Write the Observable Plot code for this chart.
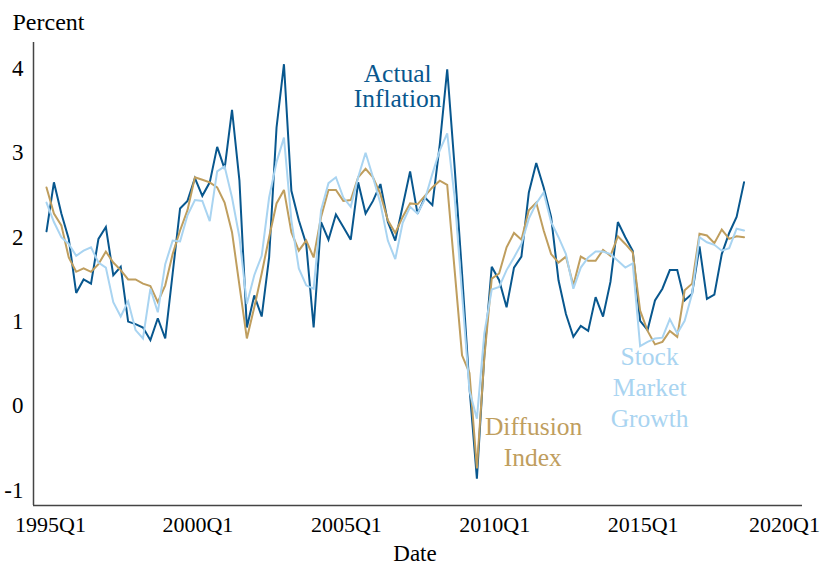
<!DOCTYPE html>
<html>
<head>
<meta charset="utf-8">
<script src="https://cdn.jsdelivr.net/npm/d3@7"></script>
<script src="https://cdn.jsdelivr.net/npm/@observablehq/plot@0.6"></script>
<style>
  html, body { margin: 0; padding: 0; background: #fff; }
</style>
</head>
<body>
<div id="chart"></div>
<script>
const quarters = [
  "1995Q1","1995Q2","1995Q3","1995Q4","1996Q1","1996Q2","1996Q3","1996Q4",
  "1997Q1","1997Q2","1997Q3","1997Q4","1998Q1","1998Q2","1998Q3","1998Q4",
  "1999Q1","1999Q2","1999Q3","1999Q4","2000Q1","2000Q2","2000Q3","2000Q4",
  "2001Q1","2001Q2","2001Q3","2001Q4","2002Q1","2002Q2","2002Q3","2002Q4",
  "2003Q1","2003Q2","2003Q3","2003Q4","2004Q1","2004Q2","2004Q3","2004Q4",
  "2005Q1","2005Q2","2005Q3","2005Q4","2006Q1","2006Q2","2006Q3","2006Q4",
  "2007Q1","2007Q2","2007Q3","2007Q4","2008Q1","2008Q2","2008Q3","2008Q4",
  "2009Q1","2009Q2","2009Q3","2009Q4","2010Q1","2010Q2","2010Q3","2010Q4",
  "2011Q1","2011Q2","2011Q3","2011Q4","2012Q1","2012Q2","2012Q3","2012Q4",
  "2013Q1","2013Q2","2013Q3","2013Q4","2014Q1","2014Q2","2014Q3","2014Q4",
  "2015Q1","2015Q2","2015Q3","2015Q4","2016Q1","2016Q2","2016Q3","2016Q4",
  "2017Q1","2017Q2","2017Q3","2017Q4","2018Q1","2018Q2","2018Q3"
];

const actualInflation = [
  2.07,2.65,2.28,1.98,1.34,1.50,1.45,1.98,2.12,1.55,
  1.65,1.00,0.97,0.93,0.78,1.04,0.80,1.57,2.34,2.43,
  2.70,2.49,2.65,3.07,2.81,3.51,2.67,0.93,1.31,1.06,
  1.76,3.30,4.05,2.55,2.20,1.92,0.93,2.18,1.97,2.27,
  2.12,1.97,2.65,2.28,2.43,2.63,2.18,1.96,2.37,2.78,
  2.28,2.47,2.38,3.10,3.99,2.83,1.57,0.22,-0.86,0.60,
  1.65,1.49,1.17,1.64,1.77,2.53,2.88,2.59,2.24,1.49,
  1.09,0.82,0.95,0.89,1.29,1.06,1.47,2.18,2.00,1.84,
  1.01,0.90,1.25,1.39,1.61,1.61,1.25,1.33,1.89,1.27,
  1.32,1.80,2.05,2.24,2.65
];

const diffusionIndex = [
  2.59,2.28,2.14,1.76,1.59,1.63,1.59,1.68,1.83,1.70,
  1.61,1.50,1.50,1.45,1.42,1.23,1.43,1.80,2.08,2.32,
  2.71,2.68,2.65,2.59,2.41,2.06,1.43,0.80,1.17,1.57,
  2.00,2.40,2.56,2.06,1.84,1.96,1.76,2.24,2.56,2.56,
  2.43,2.44,2.71,2.81,2.71,2.51,2.20,2.05,2.24,2.40,
  2.39,2.49,2.59,2.67,2.62,1.61,0.60,0.39,-0.74,0.57,
  1.51,1.57,1.88,2.05,1.97,2.32,2.41,2.08,1.80,1.70,
  1.77,1.43,1.77,1.72,1.72,1.85,1.78,2.01,1.92,1.82,
  1.13,0.89,0.73,0.76,0.89,0.82,1.37,1.45,2.04,2.02,
  1.93,2.09,1.98,2.01,2.00
];

const stockMarketGrowth = [
  2.41,2.18,2.00,1.92,1.78,1.84,1.88,1.70,1.64,1.23,
  1.06,1.24,0.90,0.80,1.39,1.11,1.68,1.96,1.95,2.26,
  2.44,2.43,2.19,2.78,2.84,2.47,2.00,1.21,1.55,1.78,
  2.47,2.89,3.18,2.20,1.63,1.43,1.39,2.32,2.64,2.71,
  2.47,2.36,2.71,3.00,2.71,2.40,1.96,1.74,2.17,2.36,
  2.28,2.45,2.75,3.03,3.23,2.47,1.33,0.18,-0.15,0.86,
  1.38,1.41,1.61,1.76,1.92,2.22,2.40,2.53,2.18,2.00,
  1.80,1.39,1.64,1.76,1.83,1.83,1.80,1.72,1.64,1.69,
  0.71,0.76,0.80,0.81,1.03,0.86,1.01,1.33,2.00,1.94,
  1.91,1.84,1.87,2.10,2.08
];

const seriesNames = ["Actual Inflation", "Diffusion Index", "Stock Market Growth"];
const seriesColors = ["#08578e", "#bf9e5e", "#a9d4f1"];
const xTicksMiddle = [2000, 2005, 2010, 2015];
const xTickFirst = [1995];
const xTickLast = [2020];
const yTicks = [-1, 0, 1, 2, 3, 4];

// Series labels placed in data units (year, percent)
const labelLines = [
  {text: "Actual",    year: 2006.83, pct: 3.93,  series: 0},
  {text: "Inflation", year: 2006.83, pct: 3.64,  series: 0},
  {text: "Diffusion", year: 2011.41, pct: -0.25, series: 1},
  {text: "Index",     year: 2011.38, pct: -0.62, series: 1},
  {text: "Stock",     year: 2015.32, pct: 0.58,  series: 2},
  {text: "Market",    year: 2015.32, pct: 0.21,  series: 2},
  {text: "Growth",    year: 2015.32, pct: -0.15, series: 2}
];

const toYear = q => +q.slice(0, 4) + (+q.slice(5) - 1) / 4;
const allValues = [actualInflation, diffusionIndex, stockMarketGrowth];
const rows = allValues.map((vals, s) =>
  quarters.map((q, i) => ({year: toYear(q), value: vals[i], series: seriesNames[s]}))
);

const xDomain = [1994.562, 2020.47];
const yDomain = [-1.179, 4.307];
const font = "Liberation Serif";
const fmtQ = d => `${d}Q1`;
const xAxisOpts = {tickFormat: fmtQ, tickSize: 0, tickPadding: 11, label: null, fontSize: 22};

const chart = Plot.plot({
  width: 823,
  height: 565,
  marginLeft: 33,
  marginRight: 21,
  marginTop: 42,
  marginBottom: 60,
  style: {fontFamily: font, fontSize: "23px", background: "#fff", color: "#000"},
  x: {domain: xDomain},
  y: {domain: yDomain},
  marks: [
    Plot.axisX({...xAxisOpts, ticks: xTickFirst, dx: 4}),
    Plot.axisX({...xAxisOpts, ticks: xTicksMiddle, dx: 3}),
    Plot.axisX({...xAxisOpts, ticks: xTickLast, dx: -4}),
    Plot.axisY({ticks: yTicks, tickFormat: d => String(d), tickSize: 0, tickPadding: 10, label: null, fontSize: 23}),
    Plot.ruleX([xDomain[0]], {stroke: "#444", strokeWidth: 1.5}),
    Plot.ruleY([yDomain[0]], {stroke: "#444", strokeWidth: 1.5}),
    ...rows.map((r, s) => Plot.line(r, {
      x: "year", y: "value", stroke: seriesColors[s], strokeWidth: 2,
      strokeLinejoin: "miter", strokeMiterlimit: 3
    })),
    Plot.text(labelLines, {
      x: "year", y: "pct", text: "text",
      fill: d => seriesColors[d.series],
      fontSize: 25.5, textAnchor: "middle", lineAnchor: "middle"
    }),
    Plot.text(["Percent"], {frameAnchor: "top-left", dx: -21, dy: -20, textAnchor: "start", lineAnchor: "middle", fontSize: 24}),
    Plot.text(["Date"], {frameAnchor: "bottom", dx: -3, dy: 48, lineAnchor: "middle", fontSize: 23})
  ]
});

document.getElementById("chart").appendChild(chart);
</script>
</body>
</html>
